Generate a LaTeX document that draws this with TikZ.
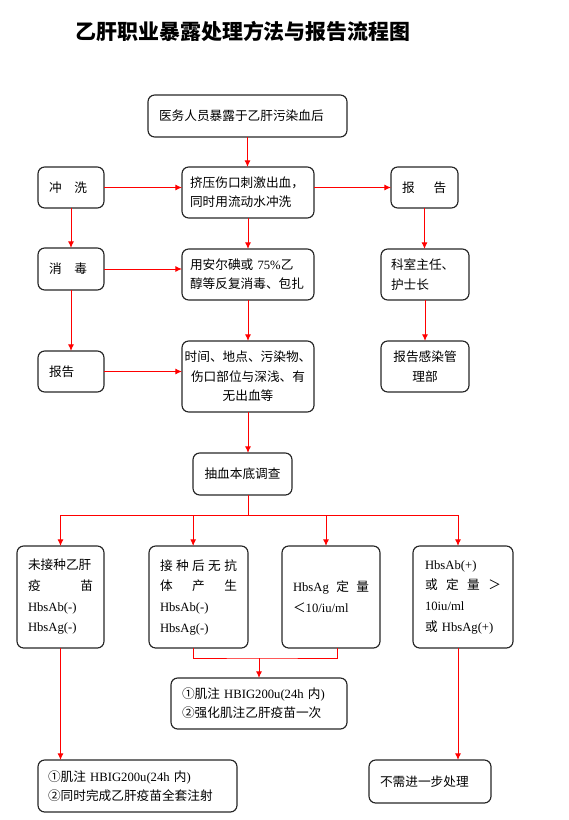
\documentclass[tikz,border=0pt]{standalone}
\usepackage{fontspec}
\setmainfont{Noto Sans CJK SC}
\newfontfamily\lat{Liberation Serif}
\usetikzlibrary{arrows.meta, positioning}
\tikzset{
    %Define standard arrow tip
    >={Latex[length=5pt,width=4.5pt]},
}

\begin{document}
\begin{tikzpicture}[x=0.75pt, y=-0.75pt,
    blk/.style = {draw=black!85, line width=.85pt, rounded corners=5pt,
                  font=\fontsize{9.5pt}{14.5pt}\selectfont, align=left,
                  inner xsep=8.25pt, inner ysep=0pt, outer sep=0pt},
    bbox/.style = {blk, minimum height=76.5pt,
                   font=\fontsize{9.5pt}{15.5pt}\selectfont},
    flow/.style = {->, red, line width=.75pt},
  ]
  \useasboundingbox (0,0) rectangle (568,820);
  \node[font=\fontsize{15.7pt}{18pt}\selectfont\bfseries] (title) at (243,31) {乙肝职业暴露处理方法与报告流程图};

  \node[blk, text width=132.75pt, minimum height=31.5pt] (exposed) at (247.5,116) {医务人员暴露于乙肝污染血后};
  \node[blk, text width=33pt, minimum height=30.75pt] (wash) at (71,187.5) {冲\hspace{1em}洗};
  \node[blk, text width=87pt, inner xsep=6pt, minimum height=38.25pt] (squeeze) at (248,192.5) {挤压伤口刺激出血，\\同时用流动水冲洗};
  \node[blk, text width=33.75pt, minimum height=30.75pt] (report) at (424.5,187.5) {报\hspace{1.5em}告};

  \node[blk, text width=33pt, minimum height=31.5pt] (disinf) at (71,269) {消\hspace{1em}毒};
  \node[blk, text width=87pt, inner xsep=6pt, minimum height=38.25pt] (iodine) at (248,274.5) {用安尔碘或 {\lat 75\%}乙\\醇等反复消毒、包扎};
  \node[blk, text width=51pt, inner xsep=7.5pt, minimum height=38.25pt] (head) at (425,274.5) {科室主任、\\护士长};

  \node[blk, text width=33pt, minimum height=30.75pt] (record) at (71,371.5) {报告};
  \node[blk, text width=97pt, inner xsep=1pt, align=center, minimum height=53.25pt] (details) at (248,376.5) {时间、地点、污染物、\\伤口部位与深浅、有\\无出血等};
  \node[blk, text width=51pt, inner xsep=7.5pt, align=center, minimum height=38.25pt] (infect) at (425,366.5) {报告感染管\\理部};

  \node[blk, text width=57.75pt, align=center, minimum height=31.5pt] (baseline) at (242.5,474) {抽血本底调查};

  \node[bbox, text width=48.75pt] (unvacc) at (60.5,597) {未接种乙肝\\疫\hfill 苗\\{\lat HbsAb(-)}\\{\lat HbsAg(-)}};
  \node[bbox, text width=57.75pt] (noab) at (198.5,597) {接\hfill 种\hfill 后\hfill 无\hfill 抗\\体\hfill 产\hfill 生\\{\lat HbsAb(-)}\\{\lat HbsAg(-)}};
  \node[bbox, text width=57pt] (low) at (331,597) {{\lat HbsAg}\hfill 定\hfill 量\\＜{\lat 10/iu/ml}};
  \node[bbox, text width=57pt, inner xsep=9pt] (pos) at (463,597) {{\lat HbsAb(+)}\\或\hfill 定\hfill 量\hfill ＞\\{\lat 10iu/ml}\\或 {\lat HbsAg(+)}};

  \node[blk, text width=115.5pt, minimum height=38.25pt] (boost) at (259,703.5) {①肌注 {\lat HBIG200u(24h} 内{\lat )}\\②强化肌注乙肝疫苗一次};
  \node[blk, text width=134.25pt, inner xsep=7.5pt, minimum height=39pt] (full) at (137.5,786) {①肌注 {\lat HBIG200u(24h} 内{\lat )}\\②同时完成乙肝疫苗全套注射};
  \node[blk, text width=75pt, minimum height=32.25pt] (nofollow) at (430,781.5) {不需进一步处理};

  \draw[flow] (exposed.south) -- (exposed.south |- squeeze.north);
  \draw[flow] (wash.east) -- (wash.east -| squeeze.west);
  \draw[flow] (squeeze.east |- report.west) -- (report.west);
  \draw[flow] (wash) -- (disinf);
  \draw[flow] (squeeze) -- (iodine);
  \draw[flow] (disinf.east) -- (disinf.east -| iodine.west);
  \draw[flow] (disinf) -- (record);
  \draw[flow] (iodine) -- (details);
  \draw[flow] (record.east) -- (record.east -| details.west);
  \draw[flow] (report.south) -- (report.south |- head.north);
  \draw[flow] (head) -- (infect);
  \draw[flow] (details.south) -- (details.south |- baseline.north);

  \coordinate (fork) at (248,515);
  \draw[red, line width=.75pt] (baseline.south -| fork) -- (fork);
  \draw[flow] (fork) -| (unvacc.north);
  \draw[flow] (fork) -| ([xshift=-4pt]noab.north);
  \draw[flow] (fork) -| ([xshift=-3.75pt]low.north);
  \draw[flow] (fork) -| ([xshift=-3.75pt]pos.north);

  \coordinate (join) at (259,658);
  \draw[red, line width=.75pt] ([xshift=-4pt]noab.south) |- (join) -| ([xshift=4.5pt]low.south);
  \draw[flow] (join) -- (boost.north);
  \draw[flow] (unvacc.south) -- (unvacc.south |- full.north);
  \draw[flow] ([xshift=-3.75pt]pos.south) -- ([xshift=-3.75pt]pos.south |- nofollow.north);
\end{tikzpicture}
\end{document}
